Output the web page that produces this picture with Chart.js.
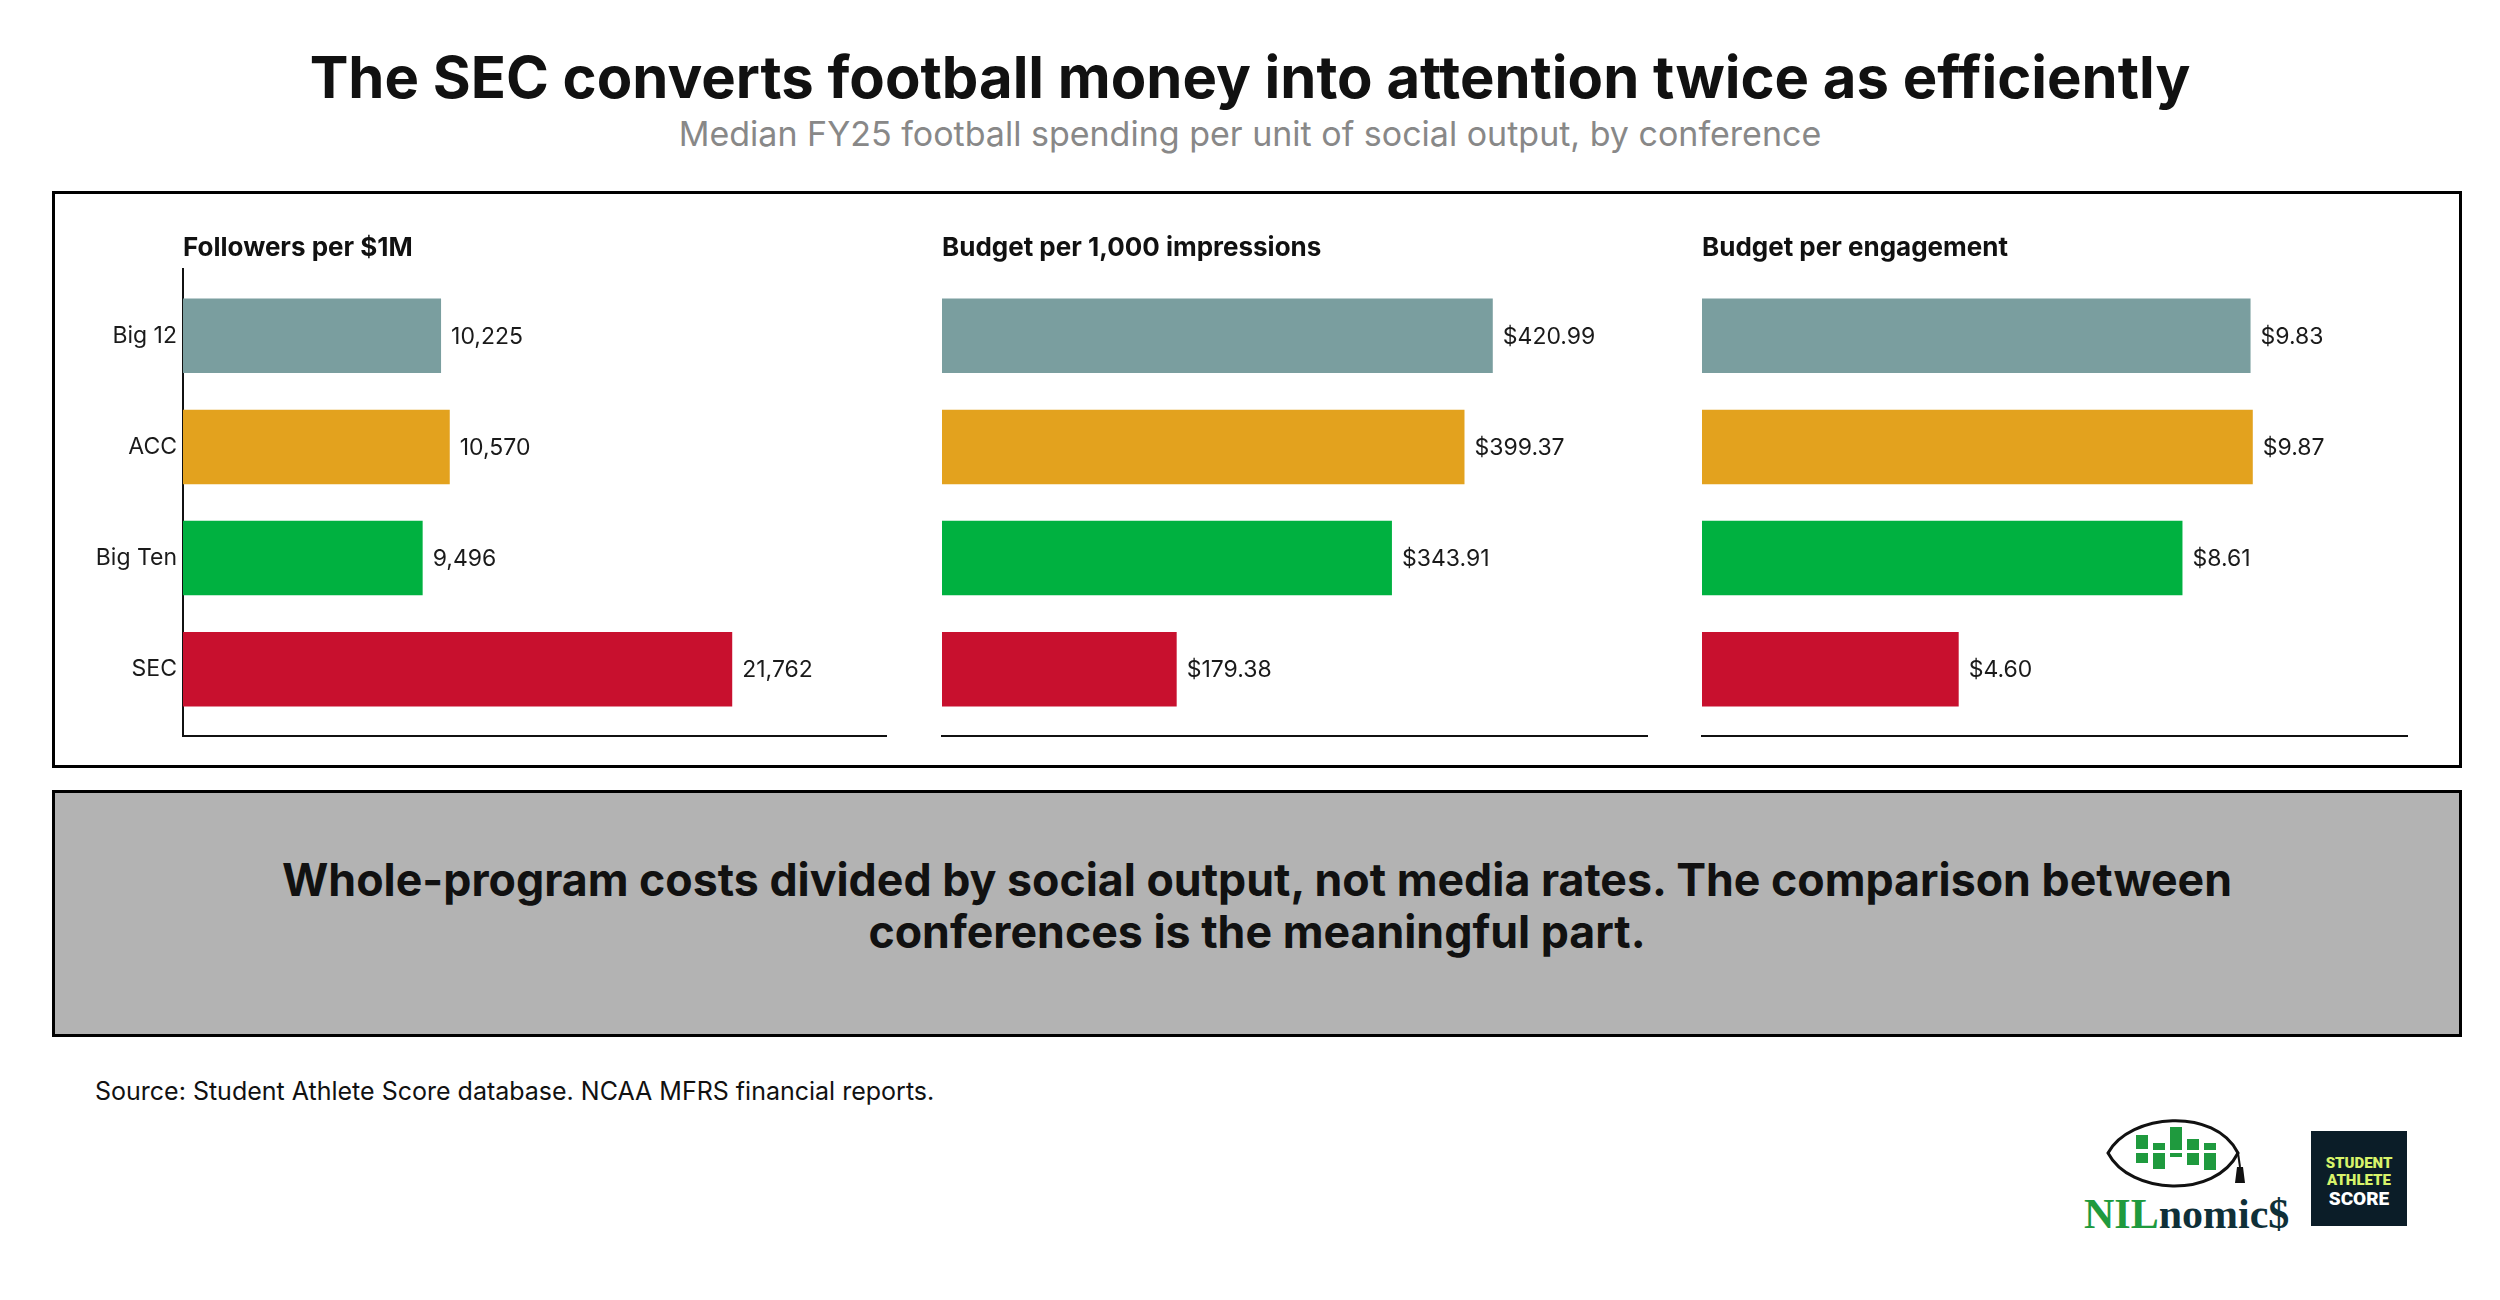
<!DOCTYPE html>
<html>
<head>
<meta charset="utf-8">
<script src="https://cdn.jsdelivr.net/npm/chart.js@4.4.1/dist/chart.umd.min.js"></script>
<style>
  html, body { margin: 0; padding: 0; background: #fff; }
  body { width: 2500px; height: 1300px; position: relative; font-family: Inter, "Noto Sans", sans-serif; overflow: hidden; }
  .title { position: absolute; left: 0; width: 2500px; top: 42px; text-align: center; font-size: 58px; font-weight: 700; color: #111; }
  .subtitle { position: absolute; left: 0; width: 2500px; top: 113px; text-align: center; font-size: 34px; color: #888; }
  .box1 { position: absolute; left: 52px; top: 191px; width: 2404px; height: 571px; border: 3px solid #000; }
  .box2 { position: absolute; left: 52px; top: 790px; width: 2404px; height: 225px; padding-bottom: 16px; border: 3px solid #000; background: #b3b3b3;
          display: flex; align-items: center; justify-content: center; text-align: center; font-size: 44.7px; font-weight: 700; color: #111; line-height: 52px; }
  .panel { position: absolute; top: 230px; height: 520px; }
  .source { position: absolute; left: 95px; top: 1076px; font-size: 25px; color: #111; }
  .logos { position: absolute; left: 2070px; top: 1115px; }
</style>
</head>
<body>
<div class="title">The SEC converts football money into attention twice as efficiently</div>
<div class="subtitle">Median FY25 football spending per unit of social output, by conference</div>
<div class="box1"></div>
<div class="panel" id="p1" style="left:60px; width:900px;"><canvas id="c1"></canvas></div>
<div class="panel" id="p2" style="left:930px; width:730px;"><canvas id="c2"></canvas></div>
<div class="panel" id="p3" style="left:1690px; width:730px;"><canvas id="c3"></canvas></div>
<div class="box2">Whole-program costs divided by social output, not media rates. The comparison between<br>conferences is the meaningful part.</div>
<div class="source">Source: Student Athlete Score database. NCAA MFRS financial reports.</div>
<div class="logos">
  <svg width="360" height="130" viewBox="0 0 360 130">
    <!-- NILnomic$ mark -->
    <path d="M 38 38 C 60 -2, 145 -8, 168 38 C 145 84, 60 80, 38 38 Z" fill="none" stroke="#111" stroke-width="3"/>
    <g fill="#1f9a3e">
      <rect x="66" y="20" width="12" height="14"/><rect x="66" y="38" width="12" height="10"/>
      <rect x="83" y="28" width="12" height="7"/><rect x="83" y="38" width="12" height="16"/>
      <rect x="100" y="12" width="12" height="23"/><rect x="100" y="38" width="12" height="4"/>
      <rect x="117" y="24" width="12" height="11"/><rect x="117" y="38" width="12" height="12"/>
      <rect x="134" y="28" width="12" height="7"/><rect x="134" y="38" width="12" height="17"/>
    </g>
    <path d="M 168 38 L 170 52" stroke="#111" stroke-width="2"/>
    <path d="M 167 52 L 173 52 L 175 68 L 165 68 Z" fill="#111"/>
    <text x="14" y="113" font-family="'Liberation Serif', serif" font-weight="700" font-size="42" fill="#1f9a3e">NIL<tspan fill="#0f3038">nomic$</tspan></text>
    <!-- Student Athlete Score -->
    <rect x="241" y="16" width="96" height="95" fill="#0b1d28"/>
    <text x="289" y="53" text-anchor="middle" font-family="Roboto, sans-serif" font-weight="900" font-size="15" fill="#d8f36a">STUDENT</text>
    <text x="289" y="70" text-anchor="middle" font-family="Roboto, sans-serif" font-weight="900" font-size="15" fill="#d8f36a">ATHLETE</text>
    <text x="289" y="90" text-anchor="middle" font-family="Roboto, sans-serif" font-weight="900" font-size="19" fill="#fff">SCORE</text>
  </svg>
</div>

<script>
// conferences (top to bottom) and colours
const conferences = ['Big 12', 'ACC', 'Big Ten', 'SEC'];
const confColors = ['#7a9e9f', '#e3a21e', '#00b140', '#c8102e'];

// panel values
const followersPerMillion = [10225, 10570, 9496, 21762];
const budgetPerThousandImpr = [420.99, 399.37, 343.91, 179.38];
const budgetPerEngagement = [9.83, 9.87, 8.61, 4.60];

const panelTitles = ['Followers per $1M', 'Budget per 1,000 impressions', 'Budget per engagement'];

const fmtCount = v => v.toLocaleString('en-US');
const fmtMoney = v => '$' + v.toFixed(2);

// draws the panel heading and the value next to each bar
const labelPlugin = {
    id: 'barLabels',
    afterDatasetsDraw(chart, args, opts) {
        const ctx = chart.ctx;
        const area = chart.chartArea;
        ctx.save();
        ctx.font = '700 26px Inter, sans-serif';
        ctx.fillStyle = '#111';
        ctx.textAlign = 'left';
        ctx.textBaseline = 'middle';
        ctx.fillText(opts.heading, area.left, area.top - 21);

        ctx.font = '23px Inter, sans-serif';
        ctx.fillStyle = '#1a1a1a';
        const meta = chart.getDatasetMeta(0);
        meta.data.forEach((bar, i) => {
            const v = chart.data.datasets[0].data[i].x;
            ctx.fillText(opts.format(v), bar.x + 10, bar.y + 1);
        });
        ctx.restore();
    }
};

function makePanel(canvasId, values, heading, format, showCats, padding) {
    const ctx = document.getElementById(canvasId).getContext('2d');
    return new Chart(ctx, {
        type: 'bar',
        data: {
            datasets: [{
                data: values.map((v, i) => ({ x: v, y: i })),
                backgroundColor: confColors,
                borderWidth: 0,
                barPercentage: 0.67,
                categoryPercentage: 1
            }]
        },
        options: {
            indexAxis: 'y',
            responsive: true,
            maintainAspectRatio: false,
            animation: false,
            layout: { padding: padding },
            plugins: {
                legend: { display: false },
                tooltip: { enabled: false },
                barLabels: { heading: heading, format: format }
            },
            scales: {
                x: {
                    type: 'linear',
                    min: 0,
                    max: Math.max(...values) * 1.28,
                    grid: { display: false, drawTicks: false },
                    border: { display: true, color: '#111', width: 2 },
                    ticks: { display: false },
                    afterFit(scale) { scale.height = 0; }
                },
                y: {
                    type: 'linear',
                    reverse: true,
                    offset: false,
                    min: -0.6,
                    max: 3.6,
                    grid: { display: false, drawTicks: false },
                    border: { display: showCats, color: '#111', width: 2 },
                    afterBuildTicks(scale) { scale.ticks = conferences.map((c, i) => ({ value: i })); },
                    ticks: {
                        display: showCats,
                        color: '#1a1a1a',
                        font: { family: 'Inter', size: 23 },
                        padding: 6,
                        callback: v => conferences[v]
                    },
                    afterFit(scale) {
                        scale.width = showCats ? 123 : 0;
                        scale.paddingTop = 0;
                        scale.paddingBottom = 0;
                    }
                }
            }
        },
        plugins: [labelPlugin]
    });
}

makePanel('c1', followersPerMillion, panelTitles[0], fmtCount, true, { left: 0, right: 74, top: 39, bottom: 14 });
makePanel('c2', budgetPerThousandImpr, panelTitles[1], fmtMoney, false, { left: 12, right: 13, top: 39, bottom: 14 });
makePanel('c3', budgetPerEngagement, panelTitles[2], fmtMoney, false, { left: 12, right: 13, top: 39, bottom: 14 });
</script>
</body>
</html>
